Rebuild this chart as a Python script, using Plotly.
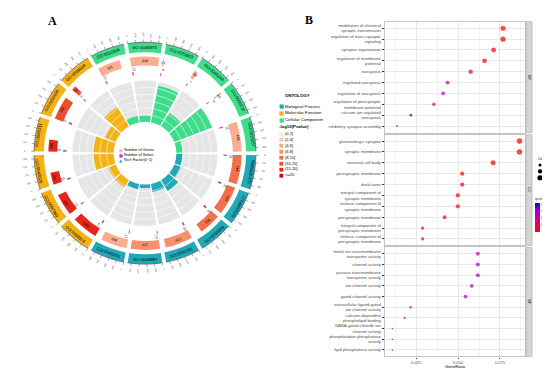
import numpy as np
import plotly.graph_objects as go

W_FIG, H_FIG = 550, 373

# ---------------- Panel A : GO enrichment circle ----------------
go_ids = ["GO:0050804", "GO:0099177", "GO:0050808", "GO:0042391", "GO:0006887", "GO:0045055",
          "GO:0098978", "GO:0097060", "GO:0043025", "GO:0045211", "GO:0150034", "GO:0099699",
          "GO:0022836", "GO:0046873", "GO:0022803", "GO:0005244", "GO:0005216", "GO:0015267"]
ontology = ["BP"] * 6 + ["MF"] * 6 + ["CC"] * 6
gene_num = [441, 430, 328, 413, 437, 396, 389, 329, 181, 180, 348, 70, 341, 436, 13, 54, 24, 448]
select_num = [22, 26, 34, 28, 13, 17, 27, 22, 30, 30, 33, 13, 20, 23, 4, 7, 8, 22]
pval_bin = [4, 4, 4, 3, 3, 2, 6, 6, 6, 6, 5, 5, 2, 2, 2, 2, 2, 2]

ont_names = {"BP": "Biological Process", "MF": "Molecular Function", "CC": "Cellular Component"}
ont_colors = {"BP": "#1FA9B9", "MF": "#F3B216", "CC": "#3EDD8C"}
bin_labels = ["(0,2]", "(2,4]", "(4,6]", "(6,8]", "(8,10]", "(10,15]", "(15,20]", ">=20"]
bin_colors = ["#FDE5DA", "#FBCBB6", "#F9AE92", "#F7906F", "#F4704C", "#EF4C2E", "#E52619", "#B8100C"]

# ---------------- Panel B : dot plot ----------------
bp_terms = ["modulation of chemical<br>synaptic transmission", "regulation of trans-synaptic<br>signaling",
            "synapse organization", "regulation of membrane<br>potential", "exocytosis",
            "regulated exocytosis", "regulation of exocytosis",
            "regulation of postsynaptic<br>membrane potential", "calcium-ion regulated<br>exocytosis",
            "inhibitory synapse assembly"]
bp_ratio = [0.0768, 0.0768, 0.0712, 0.0658, 0.0575, 0.0438, 0.0411, 0.0356, 0.0219, 0.0137]
bp_count = [28, 28, 26, 24, 21, 16, 15, 13, 8, 5]
bp_q = [0.0002, 0.0002, 0.0008, 0.0018, 0.0032, 0.0072, 0.0078, 0.0030, 0.0126, 0.0080]

cc_terms = ["glutamatergic synapse", "synaptic membrane", "neuronal cell body", "postsynaptic membrane",
            "distal axon", "integral component of<br>synaptic membrane",
            "intrinsic component of<br>synaptic membrane", "presynaptic membrane",
            "integral component of<br>presynaptic membrane", "intrinsic component of<br>presynaptic membrane"]
cc_ratio = [0.0866, 0.0866, 0.0709, 0.0525, 0.0525, 0.0499, 0.0499, 0.0420, 0.0289, 0.0289]
cc_count = [33, 33, 27, 20, 20, 19, 19, 16, 11, 11]
cc_q = [0.00001, 0.00001, 0.00005, 0.0003, 0.0003, 0.0003, 0.0003, 0.0005, 0.0004, 0.0004]

mf_terms = ["metal ion transmembrane<br>transporter activity", "channel activity",
            "passive transmembrane<br>transporter activity", "ion channel activity",
            "gated channel activity", "extracellular ligand-gated<br>ion channel activity",
            "calcium-dependent<br>phospholipid binding", "GABA-gated chloride ion<br>channel activity",
            "phosphatidate phosphatase<br>activity", "lipid phosphatase activity"]
mf_ratio = [0.0618, 0.0618, 0.0618, 0.0582, 0.0545, 0.0218, 0.0182, 0.0109, 0.0109, 0.0109]
mf_count = [17, 17, 17, 16, 15, 6, 5, 3, 3, 3]
mf_q = [0.0072, 0.0092, 0.0092, 0.0080, 0.0072, 0.0072, 0.0074, 0.0074, 0.0074, 0.0074]

x_ticks = [0.025, 0.050, 0.075]
count_breaks = [10, 20, 30]
q_ticks = [0.003, 0.006, 0.009, 0.012]

# ================= geometry of the circle (pixels) =================
cx, cy, R = 137.0, 148.0, 124.0
n = len(go_ids)
step = 360.0 / n
gap = 2.0
span = step - gap
xmax = max(gene_num)
starts = np.arange(n) * step + gap / 2  # clockwise degrees from 3 o'clock

R_AX = 113.0           # outer axis line
R_ID = (103.0, 113.0)  # ontology id boxes
R_GENE = (89.5, 98.5)  # number of genes
R_SEL = (80.0, 83.5)   # number of select
R_RICH = (32.0, 74.0)  # rich factor track
rich_max = 0.34

fig = go.Figure()

def px_to_paper(xp, yp):
    return xp / W_FIG, 1 - yp / H_FIG

def polar_point(r, theta_cw):
    phi = np.deg2rad(-theta_cw)
    return px_to_paper(cx + r * np.cos(phi), cy - r * np.sin(phi))

def tangent_angle(theta_cw):
    phi = (-theta_cw) % 360
    ta = 90 - phi
    if 180 < phi < 360:
        ta += 180
    return ((ta + 180) % 360) - 180

def radial_angle(theta_cw):
    phi = (-theta_cw) % 360
    if np.cos(np.deg2rad(phi)) >= 0:
        ta = -phi
    else:
        ta = 180 - phi
    return ((ta + 180) % 360) - 180

ont_col_list = [ont_colors[o] for o in ontology]
centers = starts + span / 2

# outer ID boxes
fig.add_trace(go.Barpolar(r=[R_ID[1] - R_ID[0]] * n, base=[R_ID[0]] * n, theta=centers, width=[span] * n,
                          marker=dict(color=ont_col_list, line=dict(width=0)), hoverinfo="skip",
                          showlegend=False))
# number of genes boxes
g_w = [span * g / xmax for g in gene_num]
g_c = [s + w / 2 for s, w in zip(starts, g_w)]
fig.add_trace(go.Barpolar(r=[R_GENE[1] - R_GENE[0]] * n, base=[R_GENE[0]] * n, theta=g_c, width=g_w,
                          marker=dict(color=[bin_colors[b] for b in pval_bin], line=dict(width=0)),
                          hoverinfo="skip", showlegend=False))
# number of select bars
s_w = [max(span * s / xmax, 0.6) for s in select_num]
s_c = [s + w / 2 for s, w in zip(starts, s_w)]
fig.add_trace(go.Barpolar(r=[R_SEL[1] - R_SEL[0]] * n, base=[R_SEL[0]] * n, theta=s_c, width=s_w,
                          marker=dict(color="#C43BC9", line=dict(width=0)), hoverinfo="skip",
                          showlegend=False))
# rich factor background
fig.add_trace(go.Barpolar(r=[R_RICH[1] - R_RICH[0]] * n, base=[R_RICH[0]] * n, theta=centers,
                          width=[span] * n, marker=dict(color="#E6E6E6", line=dict(width=0)),
                          hoverinfo="skip", showlegend=False))
# grid lines in rich track
gl_r, gl_t = [], []
for s in starts:
    for k in range(1, 6):
        rr = R_RICH[0] + (R_RICH[1] - R_RICH[0]) * k / 6
        ts = np.linspace(s, s + span, 12)
        gl_r += [rr] * len(ts) + [None]
        gl_t += list(ts) + [None]
fig.add_trace(go.Scatterpolar(r=gl_r, theta=gl_t, mode="lines", line=dict(color="white", width=0.6),
                              hoverinfo="skip", showlegend=False))
# rich factor bars
rich = [s / g for s, g in zip(select_num, gene_num)]
fig.add_trace(go.Barpolar(r=[(R_RICH[1] - R_RICH[0]) * min(rf / rich_max, 1) for rf in rich],
                          base=[R_RICH[0]] * n, theta=centers, width=[span] * n,
                          marker=dict(color=ont_col_list, line=dict(width=0)), hoverinfo="skip",
                          showlegend=False))
# outer axis arcs and ticks
ax_r, ax_t = [], []
tk_r, tk_t = [], []
for s in starts:
    ts = np.linspace(s, s + span, 20)
    ax_r += [R_AX] * len(ts) + [None]
    ax_t += list(ts) + [None]
    for v in range(0, xmax + 1, 100):
        th = s + span * v / xmax
        tk_r += [R_AX, R_AX + 3, None]
        tk_t += [th, th, None]
fig.add_trace(go.Scatterpolar(r=ax_r, theta=ax_t, mode="lines", line=dict(color="#555555", width=0.8),
                              hoverinfo="skip", showlegend=False))
fig.add_trace(go.Scatterpolar(r=tk_r, theta=tk_t, mode="lines", line=dict(color="#555555", width=0.5),
                              hoverinfo="skip", showlegend=False))

fig.update_layout(polar=dict(
    domain=dict(x=[(cx - R) / W_FIG, (cx + R) / W_FIG], y=[1 - (cy + R) / H_FIG, 1 - (cy - R) / H_FIG]),
    radialaxis=dict(range=[0, R], visible=False),
    angularaxis=dict(direction="clockwise", rotation=0, visible=False),
    bgcolor="rgba(0,0,0,0)", barmode="overlay", hole=0))

annotations = []

def add_text(text, xp, yp, size, color="black", angle=0, bold=False, xanchor="center", family="Liberation Sans"):
    annotations.append(dict(text=("<b>%s</b>" % text) if bold else text, x=xp, y=yp, xref="paper",
                            yref="paper", showarrow=False, textangle=angle, xanchor=xanchor, yanchor="middle",
                            font=dict(size=size, color=color, family=family), borderpad=0))

for i in range(n):
    c = centers[i]
    x, y = polar_point((R_ID[0] + R_ID[1]) / 2, c)
    add_text(go_ids[i], x, y, 4.3, angle=tangent_angle(c))
    x, y = polar_point((R_GENE[0] + R_GENE[1]) / 2, g_c[i])
    add_text(str(gene_num[i]), x, y, 3.6, angle=tangent_angle(g_c[i]))
    th = starts[i] + 1.5
    x, y = polar_point(R_SEL[1] + 3, th)
    add_text(str(select_num[i]), x, y, 3.4, angle=radial_angle(th), color="#333333")
    for v in range(0, xmax + 1, 100):
        th = starts[i] + span * v / xmax
        x, y = polar_point(R_AX + 7, th)
        add_text(str(v), x, y, 2.4, angle=radial_angle(th), color="#444444")

# legends of panel A
add_text("ONTOLOGY", 276 / W_FIG, 1 - 89 / H_FIG, 4.3, bold=True, xanchor="left")
for k, o in enumerate(["BP", "MF", "CC"]):
    yy = 1 - (100 + 7 * k) / H_FIG
    add_text("■", 270 / W_FIG, yy, 5.5, color=ont_colors[o], xanchor="left", family="DejaVu Sans")
    add_text(ont_names[o], 276 / W_FIG, yy, 4.3, xanchor="left")
add_text("-log10(Pvalue)", 270 / W_FIG, 1 - 121 / H_FIG, 4.3, bold=True, xanchor="left")
for k, lab in enumerate(bin_labels):
    yy = 1 - (128 + 6 * k) / H_FIG
    add_text("■", 270 / W_FIG, yy, 5.0, color=bin_colors[k], xanchor="left", family="DejaVu Sans")
    add_text(lab, 276 / W_FIG, yy, 4.0, xanchor="left")
center_items = [("■", "#F6B6C8", "Number of Genes"), ("■", "#C43BC9", "Number of Select"),
                ("▲", ont_colors["BP"], "Rich Factor(0~1)")]
for k, (sym, col, lab) in enumerate(center_items):
    yy = 1 - (145 + 5 * k) / H_FIG
    add_text(sym, 110 / W_FIG, yy, 4.2, color=col, xanchor="left", family="DejaVu Sans")
    add_text(lab, 115 / W_FIG, yy, 3.8, xanchor="left")

add_text("A", 44 / W_FIG, 1 - 13 / H_FIG, 12, bold=True, family="Liberation Serif")
add_text("B", 301 / W_FIG, 1 - 12 / H_FIG, 12, bold=True, family="Liberation Serif")

# ================= Panel B =================
colorscale = [[0.0, "#FF0000"], [0.25, "#EA0058"], [0.5, "#C8009F"], [0.75, "#9600D6"], [1.0, "#0000FF"]]
q_min, q_max = 0.0, 0.0126

def dot_size(c):
    return np.sqrt(c / 1.07)

x_dom = [377 / W_FIG, 517 / W_FIG]
x_range = [0.0065, 0.0899]
facets = [("BP", bp_terms, bp_ratio, bp_count, bp_q, (14, 127)),
          ("CC", cc_terms, cc_ratio, cc_count, cc_q, (129, 242)),
          ("MF", mf_terms, mf_ratio, mf_count, mf_q, (244, 355))]
shapes = []
for k, (lab, terms, ratio, count, qv, (yt, yb)) in enumerate(facets):
    ax = k + 2
    fig.add_trace(go.Scatter(x=ratio, y=terms, mode="markers", xaxis="x%d" % ax, yaxis="y%d" % ax,
                             marker=dict(size=[dot_size(c) for c in count], color=qv, coloraxis="coloraxis",
                                         line=dict(width=0)),
                             showlegend=False, hoverinfo="skip"))
    last = (k == 2)
    fig.update_layout(**{
        "xaxis%d" % ax: dict(domain=x_dom, range=x_range, anchor="y%d" % ax, tickvals=x_ticks,
                             ticktext=["0.025", "0.050", "0.075"], showticklabels=last,
                             ticks="outside" if last else "", ticklen=1.5, tickcolor="#333333",
                             ticklabelstandoff=0, title=dict(text="", font=dict(size=1)),
                             tickfont=dict(size=4.0, color="#4D4D4D", family="Liberation Sans"),
                             showgrid=True, gridcolor="#E8E8E8", gridwidth=0.6,
                             minor=dict(tickvals=[0.0125, 0.0375, 0.0625, 0.0875], showgrid=True,
                                        gridcolor="#F3F3F3", gridwidth=0.4),
                             zeroline=False, showline=True, mirror=True, linecolor="#C4C4C4", linewidth=1.4),
        "yaxis%d" % ax: dict(domain=[1 - yb / H_FIG, 1 - yt / H_FIG], anchor="x%d" % ax,
                             categoryorder="array", categoryarray=terms, range=[len(terms) - 0.4, -0.6],
                             tickfont=dict(size=4.2, color="#4D4D4D", family="Liberation Sans"),
                             ticks="outside", ticklen=2, tickcolor="#333333",
                             title=dict(text="", font=dict(size=1)),
                             showgrid=True, gridcolor="#E8E8E8", gridwidth=0.6, zeroline=False,
                             showline=True, mirror=True, linecolor="#C4C4C4", linewidth=1.4),
    })
    shapes.append(dict(type="rect", xref="paper", yref="paper", x0=518 / W_FIG, x1=524 / W_FIG,
                       y0=1 - yb / H_FIG, y1=1 - yt / H_FIG, fillcolor="#D6D6D6",
                       line=dict(color="#B5B5B5", width=0.8)))
    add_text(lab, 521 / W_FIG, 1 - (yt + yb) / 2 / H_FIG, 3.6, color="#1A1A1A", angle=90)

add_text("GeneRatio", (377 + 517) / 2 / W_FIG, 1 - 365.5 / H_FIG, 4.2)

fig.update_layout(coloraxis=dict(
    colorscale=colorscale, cmin=q_min, cmax=q_max,
    colorbar=dict(x=527 / W_FIG, xanchor="left", y=1 - 209 / H_FIG, yanchor="middle",
                  len=38, lenmode="pixels", thickness=4.5, thicknessmode="pixels", outlinewidth=0,
                  tickvals=q_ticks, ticktext=["0.003", "0.006", "0.009", "0.012"], ticks="",
                  tickfont=dict(size=3.1, color="#333333", family="Liberation Sans"),
                  title=dict(text="qvalue", side="top", font=dict(size=3.6, family="Liberation Sans")),
                  xpad=0, ypad=0)))

# count legend
add_text("Count", 529 / W_FIG, 1 - 154 / H_FIG, 3.6, xanchor="left")
for k, c in enumerate(count_breaks):
    yy = 160 + 6.5 * k
    d = dot_size(c)
    shapes.append(dict(type="circle", xref="paper", yref="paper", x0=(532 - d / 2) / W_FIG,
                       x1=(532 + d / 2) / W_FIG, y0=1 - (yy + d / 2) / H_FIG, y1=1 - (yy - d / 2) / H_FIG,
                       fillcolor="black", line=dict(width=0)))
    add_text(str(c), 537 / W_FIG, 1 - yy / H_FIG, 3.2, xanchor="left", color="#333333")

fig.update_layout(width=W_FIG, height=H_FIG, margin=dict(l=0, r=0, t=0, b=0), paper_bgcolor="white",
                  plot_bgcolor="white", annotations=annotations, shapes=shapes, showlegend=False)
fig.write_html("out.html")
